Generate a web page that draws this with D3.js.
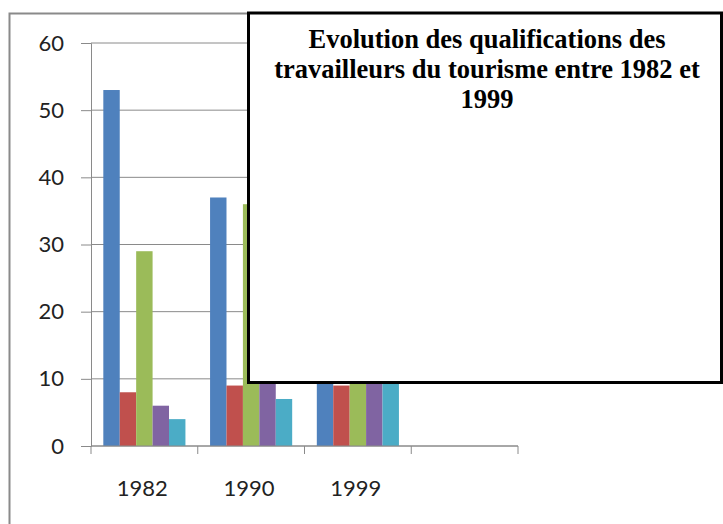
<!DOCTYPE html>
<html>
<head>
<meta charset="utf-8">
<script src="https://cdn.jsdelivr.net/npm/d3@7"></script>
<style>
    body { margin: 0; background: #fff; }
    .title { font-family: "Liberation Serif", Tinos, "Times New Roman", "DejaVu Serif", serif; }
</style>
</head>
<body>
<svg id="chart" width="723" height="524"></svg>
<script>
const width = 723;
const height = 524;

// categories (the fourth slot is empty in the original)
const categories = ["1982", "1990", "1999", ""];
const yTicks = [0, 10, 20, 30, 40, 50, 60];

// one array per series, values per category
const serie1 = [53, 37, 24];
const serie2 = [8, 9, 9];
const serie3 = [29, 36, 28];
const serie4 = [6, 14, 18];
const serie5 = [4, 7, 12];
const seriesColors = ["#4F81BD", "#C0504D", "#9BBB59", "#8064A2", "#4BACC6"];

const titleLines = [
    "Evolution des qualifications des",
    "travailleurs du tourisme entre 1982 et",
    "1999"
];

const svg = d3.select("#chart");

const plotLeft = 91, plotRight = 518, plotTop = 43, plotBottom = 446;

// outer chart border
svg.append("rect")
    .attr("x", 9.5).attr("y", 13.5)
    .attr("width", 900).attr("height", 700)
    .attr("fill", "#fff")
    .attr("stroke", "#8a8a8a")
    .attr("stroke-width", 2);

const xScale = d3.scaleBand().domain(categories).range([plotLeft, plotRight]);
const yScale = d3.scaleLinear().domain([0, 60]).range([plotBottom, plotTop]);

// gridlines
svg.append("g")
    .selectAll("line")
    .data(yTicks)
    .join("line")
    .attr("x1", plotLeft).attr("x2", plotRight)
    .attr("y1", d => yScale(d)).attr("y2", d => yScale(d))
    .attr("stroke", "#8a8a8a")
    .attr("stroke-width", 1);

// y axis
const yAxis = svg.append("g")
    .attr("transform", `translate(${plotLeft}, 0)`)
    .call(d3.axisLeft(yScale).tickValues(yTicks).tickSize(10).tickPadding(17));
yAxis.select(".domain").attr("stroke", "#8a8a8a");
yAxis.selectAll(".tick line").attr("stroke", "#8a8a8a");
yAxis.selectAll(".tick text")
    .attr("font-family", "Lato, 'Open Sans', sans-serif")
    .attr("font-size", "22px")
    .attr("fill", "#222");

// bars
const allSeries = [serie1, serie2, serie3, serie4, serie5];
const bw = xScale.bandwidth();
const barW = bw / (allSeries.length + 1.5);
const xSub = d3.scaleBand()
    .domain(d3.range(allSeries.length))
    .range([barW * 0.75, barW * 0.75 + barW * allSeries.length]);

allSeries.forEach(function (serie, s) {
    svg.append("g")
        .selectAll("rect")
        .data(serie)
        .join("rect")
        .attr("x", (d, i) => xScale(categories[i]) + xSub(s))
        .attr("y", d => yScale(d))
        .attr("width", xSub.bandwidth())
        .attr("height", d => yScale(0) - yScale(d))
        .attr("fill", seriesColors[s]);
});

// x axis line, tick marks between categories, labels
const xAxis = svg.append("g");
xAxis.append("line")
    .attr("x1", plotLeft).attr("x2", plotRight)
    .attr("y1", yScale(0)).attr("y2", yScale(0))
    .attr("stroke", "#8a8a8a");
const bounds = categories.map(c => xScale(c)).concat([plotRight]);
xAxis.selectAll(".xtick")
    .data(bounds)
    .join("line")
    .attr("class", "xtick")
    .attr("x1", d => d).attr("x2", d => d)
    .attr("y1", yScale(0)).attr("y2", yScale(0) + 8)
    .attr("stroke", "#8a8a8a");
xAxis.selectAll(".xlabel")
    .data(categories)
    .join("text")
    .attr("class", "xlabel")
    .attr("x", d => xScale(d) + bw / 2 - 2)
    .attr("y", 496)
    .attr("text-anchor", "middle")
    .attr("font-family", "Lato, 'Open Sans', sans-serif")
    .attr("font-size", "22px")
    .attr("fill", "#222")
    .text(d => d);

// title box overlaying the chart
svg.append("rect")
    .attr("x", 248.5).attr("y", 13)
    .attr("width", 473).attr("height", 369.5)
    .attr("fill", "#fff")
    .attr("stroke", "#000")
    .attr("stroke-width", 3);

svg.append("g")
    .selectAll("text")
    .data(titleLines)
    .join("text")
    .attr("class", "title")
    .attr("x", 487)
    .attr("y", (d, i) => 48 + i * 30)
    .attr("text-anchor", "middle")
    .attr("font-weight", "bold")
    .attr("font-size", "26.5px")
    .attr("fill", "#000")
    .text(d => d);
</script>
</body>
</html>
